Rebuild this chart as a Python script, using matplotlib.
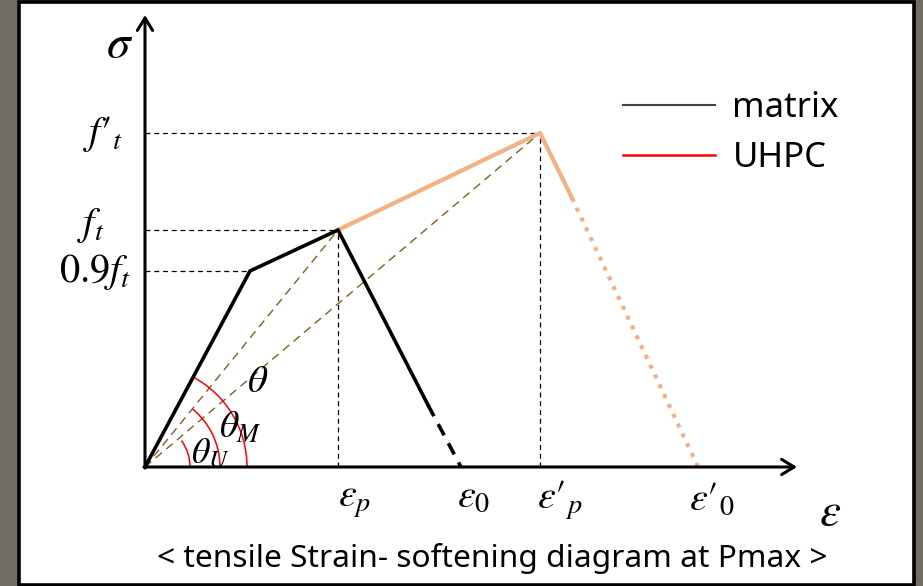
import matplotlib
matplotlib.use("Agg")
import matplotlib.pyplot as plt
from matplotlib.patches import Rectangle, Arc
from matplotlib.lines import Line2D

plt.rcParams['mathtext.fontset'] = 'stix'
plt.rcParams['font.family'] = ['Noto Sans', 'DejaVu Sans']

# ---- data (arbitrary strain / stress units) ----
matrix_eps = [0.0, 1.05, 1.93, 2.83]
matrix_sig = [0.0, 1.96, 2.37, 0.62]
matrix_tail_eps = [2.83, 3.16]
matrix_tail_sig = [0.62, 0.0]
uhpc_eps = [1.93, 3.95, 4.27]
uhpc_sig = [2.37, 3.34, 2.69]
uhpc_tail_eps = [4.27, 5.53]
uhpc_tail_sig = [2.69, 0.0]
secant_eps = [1.93, 3.95]
secant_sig = [2.37, 3.34]
kink_eps, kink_sig = 1.05, 1.96
arc_radii = [1.02, 0.75, 0.45]
arc_angles = [62, 51, 36]
stress_labels = [r"$f\prime_t$", r"$f_t$", r"$0.9f_t$"]
strain_labels = [r"$\varepsilon_p$", r"$\varepsilon_0$", r"$\varepsilon\prime_p$", r"$\varepsilon\prime_0$"]
legend_labels = ["matrix", "UHPC"]
caption = "< tensile Strain- softening diagram at Pmax >"

W, H = 923, 586
fig = plt.figure(figsize=(W / 100, H / 100), dpi=100)
fig.patch.set_facecolor('#716d65')
ax = fig.add_axes([0, 0, 1, 1])
ax.set_xlim(-1.45, (W - 145) / 100)
ax.set_ylim(-(H - 467) / 100, 4.67)
ax.axis('off')

ax.add_patch(Rectangle((19 / W, 1.5 / H), (914 - 19) / W, (584.5 - 1.5) / H,
                       transform=ax.transAxes, fc='white', ec='black', lw=2.6, zorder=0))

# axes arrows
arrow_kw = dict(arrowstyle='->,head_length=0.9,head_width=0.55', lw=2.2, color='black',
                shrinkA=0, shrinkB=0)
ax.annotate('', xy=(0, 4.52), xytext=(0, -0.01), arrowprops=arrow_kw, zorder=5)
ax.annotate('', xy=(6.52, 0), xytext=(-0.01, 0), arrowprops=arrow_kw, zorder=5)

# dashed guide lines
gkw = dict(color='black', lw=0.9, ls=(0, (4, 3)), zorder=1)
ax.plot([0, uhpc_eps[1]], [uhpc_sig[1]] * 2, **gkw)
ax.plot([0, matrix_eps[2]], [matrix_sig[2]] * 2, **gkw)
ax.plot([0, kink_eps], [kink_sig] * 2, **gkw)
ax.plot([matrix_eps[2]] * 2, [0, matrix_sig[2]], **gkw)
ax.plot([uhpc_eps[1]] * 2, [0, uhpc_sig[1]], **gkw)

# secant lines
for e, s in zip(secant_eps, secant_sig):
    ax.plot([0, e], [0, s], color='#806020', lw=1.0, ls=(0, (6, 4)), zorder=2)

# curves
ax.plot(matrix_eps, matrix_sig, color='black', lw=2.6, solid_joinstyle='miter', zorder=4)
ax.plot(matrix_tail_eps, matrix_tail_sig, color='black', lw=2.6, ls=(0, (3.5, 2.5)), zorder=4)
ax.plot(uhpc_eps, uhpc_sig, color='#f4b183', lw=3.0, zorder=3)
ax.plot(uhpc_tail_eps, uhpc_tail_sig, color='#f4b183', lw=3.0, ls=(0, (1, 1.6)), zorder=3)

# angle arcs
for r, a in zip(arc_radii, arc_angles):
    ax.add_patch(Arc((0, 0), 2 * r, 2 * r, theta1=0, theta2=a, color='red', lw=1.1, zorder=3))

mt = dict(ha='center', va='center', color='black')
ax.text(-0.25, 4.22, r'$\sigma$', fontsize=34, **mt)
ax.text(-0.42, 3.33, stress_labels[0], fontsize=29, **mt)
ax.text(-0.54, 2.42, stress_labels[1], fontsize=29, **mt)
ax.text(-0.50, 1.95, stress_labels[2], fontsize=29, **mt)
ax.text(2.10, -0.33, strain_labels[0], fontsize=29, **mt)
ax.text(3.29, -0.30, strain_labels[1], fontsize=29, **mt)
ax.text(4.15, -0.33, strain_labels[2], fontsize=29, **mt)
ax.text(5.67, -0.33, strain_labels[3], fontsize=29, **mt)
ax.text(6.85, -0.45, r'$\varepsilon$', fontsize=34, **mt)
ax.text(1.13, 0.85, r'$\theta$', fontsize=28, **mt)
ax.text(0.95, 0.39, r'$\theta_M$', fontsize=27, **mt)
ax.text(0.65, 0.13, r'$\theta_U$', fontsize=26, **mt)

handles = [Line2D([], [], color='#444444', lw=1.5), Line2D([], [], color='red', lw=1.8)]
ax.legend(handles, legend_labels, loc='upper left', bbox_to_anchor=(623 / W, 1 - 91 / H),
          frameon=False, fontsize=25, handlelength=2.65, handletextpad=0.5,
          labelspacing=0.47, borderaxespad=0, borderpad=0)

ax.text(3.47, -0.92, caption, fontsize=22.8, ha='center', va='center', color='black')

fig.savefig('out.png', dpi=100, facecolor=fig.get_facecolor())
